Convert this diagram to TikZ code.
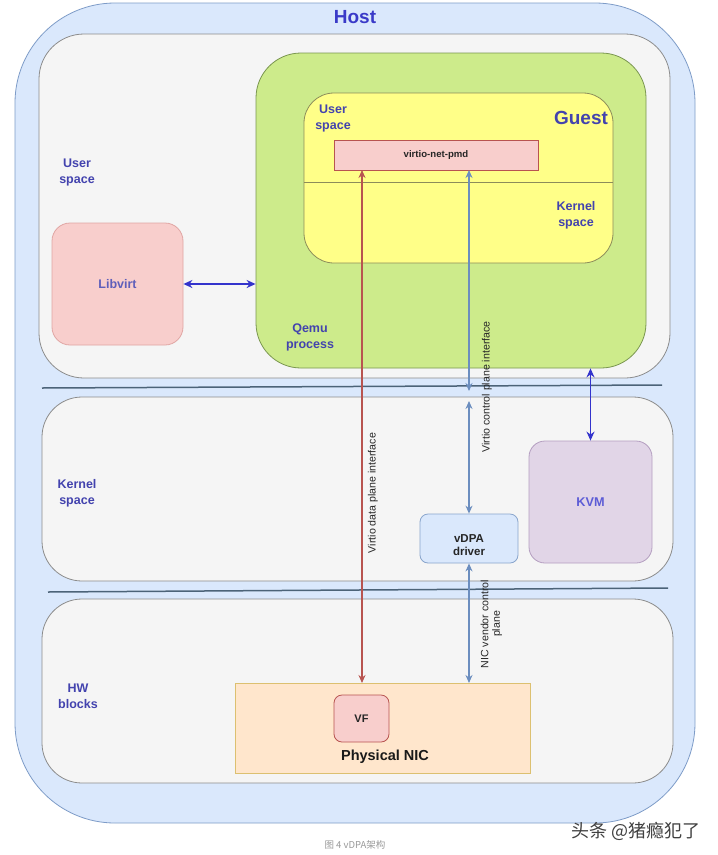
\documentclass[tikz,border=0pt]{standalone}
\usepackage{fontspec}
\setmainfont{Liberation Sans}
\newfontfamily\cjkfont{Noto Sans CJK SC}
\usetikzlibrary{arrows.meta}
\definecolor{hostfill}{HTML}{DAE8FC}
\definecolor{hostdraw}{HTML}{7E9CC8}
\definecolor{panelfill}{HTML}{F5F5F5}
\definecolor{paneldraw}{HTML}{8C8C8C}
\definecolor{qemufill}{HTML}{CDEB8B}
\definecolor{qemudraw}{HTML}{7A9650}
\definecolor{guestfill}{HTML}{FFFF88}
\definecolor{guestdraw}{HTML}{8C8C5A}
\definecolor{redfill}{HTML}{F8CECC}
\definecolor{reddraw}{HTML}{B85450}
\definecolor{libdraw}{HTML}{E0A6A4}
\definecolor{kvmfill}{HTML}{E1D5E7}
\definecolor{kvmdraw}{HTML}{B49EC0}
\definecolor{nicfill}{HTML}{FFE6CC}
\definecolor{nicdraw}{HTML}{DCC070}
\definecolor{ctrlblue}{HTML}{6C8EBF}
\definecolor{arrblue}{HTML}{3333CC}
\definecolor{lblblue}{HTML}{4343AE}
\definecolor{hosttext}{HTML}{3A3AC8}
\definecolor{sepline}{HTML}{4C6378}
\begin{document}
\begin{tikzpicture}[x=1pt,y=-1pt,
  box/.style={rectangle, inner sep=0pt, line width=0.8pt},
  lbl/.style={font=\bfseries\fontsize{12.5}{16}\selectfont, text=lblblue, align=center, inner sep=0pt},
  biglbl/.style={font=\bfseries\fontsize{19}{22}\selectfont, inner sep=0pt},
  rotlbl/.style={font=\fontsize{10.6}{12}\selectfont, text=black!85, rotate=90, align=center, inner sep=0pt},
  bluearr/.style={draw=arrblue, line width=1.7pt, {Stealth[length=9pt,width=8pt]}-{Stealth[length=9pt,width=8pt]}},
  ctrlarr/.style={draw=ctrlblue, line width=1.2pt, {Stealth[length=8pt,width=7pt]}-{Stealth[length=8pt,width=7pt]}},
  dataarr/.style={draw=reddraw, line width=1.2pt, {Stealth[length=8pt,width=7pt]}-{Stealth[length=8pt,width=7pt]}},
  sep/.style={draw=sepline, line width=1.5pt}
]
\useasboundingbox (0,0) rectangle (718,855);
\fill[white] (0,0) rectangle (718,855);

% Host
\node[box, fill=hostfill, draw=hostdraw, rounded corners=100pt, minimum width=680pt, minimum height=820pt] (host) at (355,413) {};
\node[biglbl, text=hosttext] (hosttitle) at (355,17) {Host};

% panels
\node[box, fill=panelfill, draw=paneldraw, rounded corners=45pt, minimum width=631pt, minimum height=344pt] (userp) at (354.5,206) {};
\node[box, fill=panelfill, draw=paneldraw, rounded corners=40pt, minimum width=631pt, minimum height=184pt] (kernp) at (357.5,489) {};
\node[box, fill=panelfill, draw=paneldraw, rounded corners=40pt, minimum width=631pt, minimum height=184pt] (hwp) at (357.5,691) {};

% separators
\coordinate (s1a) at (42,388);
\coordinate (s1b) at (662,385);
\coordinate (s2a) at (48,592);
\coordinate (s2b) at (668,588);
\draw[sep] (s1a) -- (s1b);
\draw[sep] (s2a) -- (s2b);

% left labels
\node[lbl] (uslbl) at (77,172) {User\\space};
\node[lbl] (kslbl) at (77,493) {Kernel\\space};
\node[lbl] (hwlbl) at (78,696) {HW\\blocks};

% Qemu
\node[box, fill=qemufill, draw=qemudraw, rounded corners=45pt, minimum width=390pt, minimum height=315pt] (qemu) at (451,210.5) {};
\node[lbl] (qemulbl) at (310,337) {Qemu\\process};

% Guest
\node[box, fill=guestfill, draw=guestdraw, rounded corners=30pt, minimum width=309pt, minimum height=170pt] (guest) at (458.5,178) {};
\draw[draw=guestdraw, line width=0.8pt] (guest.west |- 0,182) -- (guest.east |- 0,182);
\node[biglbl, text=lblblue] (guestlbl) at (581,118) {Guest};
\node[lbl] (gulbl) at (333,118) {User\\space};
\node[lbl] (gklbl) at (576,215) {Kernel\\space};

% virtio-net-pmd
\node[box, fill=redfill, draw=reddraw, minimum width=204pt, minimum height=30pt, font=\bfseries\fontsize{9.6}{11}\selectfont, text=black!85] (pmd) at (436,155) {virtio-net-pmd};

% Libvirt
\node[box, fill=redfill, draw=libdraw, rounded corners=18pt, minimum width=131pt, minimum height=122pt, font=\bfseries\fontsize{12.5}{15}\selectfont, text=lblblue!85!white] (libvirt) at (117.5,284) {Libvirt};

% KVM
\node[box, fill=kvmfill, draw=kvmdraw, rounded corners=16pt, minimum width=123pt, minimum height=122pt, font=\bfseries\fontsize{12.7}{15}\selectfont, text=arrblue!80!white] (kvm) at (590.5,502) {KVM};

% vDPA driver
\node[box, fill=hostfill, draw=ctrlblue!80!white, rounded corners=8pt, minimum width=98pt, minimum height=49pt] (vdpa) at (469,538.5) {};
\node[font=\bfseries\fontsize{11.5}{13}\selectfont, text=black!85, align=center, inner sep=0pt] (vdpalbl) at (469,545.5) {vDPA\\driver};

% Physical NIC
\node[box, fill=nicfill, draw=nicdraw, minimum width=295pt, minimum height=90pt] (nic) at (382.5,728) {};
\node[box, fill=redfill, draw=reddraw, rounded corners=8pt, minimum width=55pt, minimum height=47pt, font=\bfseries\fontsize{11}{13}\selectfont, text=black!85] (vf) at (361.5,718.5) {VF};
\node[font=\bfseries\fontsize{14.5}{16}\selectfont, text=black!90, inner sep=0pt] (niclbl) at (385,757) {Physical NIC};

% arrows
\draw[bluearr] (libvirt.east) -- (libvirt.east -| qemu.west);
\draw[bluearr] (qemu.south -| kvm.north) -- (kvm.north);

\coordinate (dtop) at (362,170);
\coordinate (dbot) at (362,683);
\draw[dataarr] (dtop) -- (dbot);

\coordinate (ctop) at (469,170);
\coordinate (cmid1) at (469,391);
\coordinate (cmid2) at (469,401);
\coordinate (cbot) at (469,683);
\draw[ctrlarr] (ctop) -- (cmid1);
\draw[ctrlarr] (cmid2) -- (vdpa.north);
\draw[ctrlarr] (vdpa.south) -- (cbot);

% rotated labels
\node[rotlbl] (datalbl) at (373,493) {Virtio data plane interface};
\node[rotlbl] (ctrllbl) at (487,387) {Virtio control plane interface};
\node[rotlbl, font=\fontsize{10.6}{11.5}\selectfont] (nvlbl) at (491.5,624) {NIC vendor control\\plane};

% caption and watermark
\node[font=\cjkfont\fontsize{9.5}{11}\selectfont, text=black!40, inner sep=0pt] (caption) at (355,845) {图 4 vDPA架构};
\node[font=\cjkfont\fontsize{18}{20}\selectfont, text=black!75, inner sep=0pt] (wm) at (636,831) {头条 @猪瘾犯了};
\end{tikzpicture}
\end{document}
